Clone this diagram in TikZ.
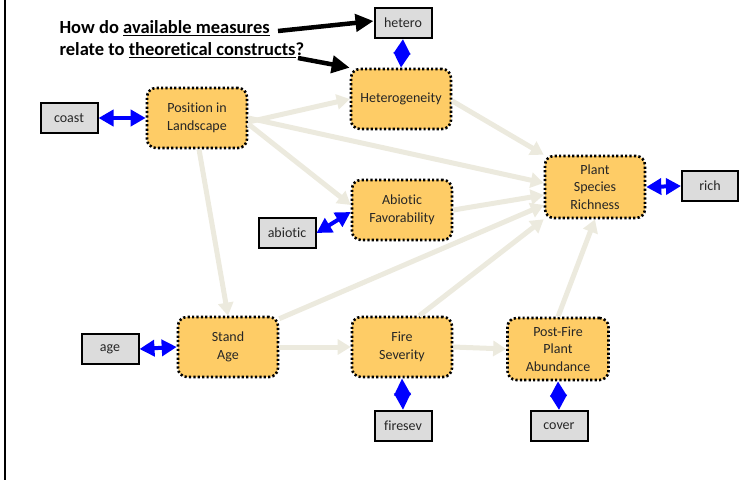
\documentclass[tikz,border=0pt]{standalone}
\usepackage{fontspec}
\setmainfont{Carlito}[RawFeature=-liga]
\usetikzlibrary{arrows.meta}
\definecolor{latent}{RGB}{254,204,102}
\definecolor{obsfill}{RGB}{220,220,220}
\definecolor{pathcol}{RGB}{236,234,222}
\tikzset{
  construct/.style={draw=black, fill=latent, line width=2.6pt, dash pattern=on 2.2pt off 2.2pt,
    rounded corners=9pt, minimum width=100pt, minimum height=60pt, align=center,
    font=\fontsize{14}{18.5}\selectfont, text=black!85},
  measure/.style={draw=black, fill=obsfill, line width=2pt, minimum width=57pt, minimum height=30pt,
    font=\fontsize{14}{16}\selectfont, text=black!85},
  pathway/.style={draw=pathcol, line width=5pt, -{Triangle[width=15pt,length=13pt]}},
  link/.style={draw=blue, line width=4pt, {Triangle[width=16pt,length=15pt]}-{Triangle[width=16pt,length=15pt]}},
  shortlink/.style={draw=blue, line width=4pt, {Triangle[width=16pt,length=17pt]}-{Triangle[width=16pt,length=17pt]}},
  pointer/.style={draw=black, line width=4.5pt, -{Triangle[width=17pt,length=18pt]}},
}
\begin{document}
\begin{tikzpicture}[x=1pt,y=-1pt]
\useasboundingbox (0,0) rectangle (740,480);
\draw[line width=2pt] (5,0) -- (5,480);

% constructs
\node[construct] (het) at (401,99) {Heterogeneity};
\node[construct] (pos) at (197,118) {Position in\\Landscape};
\node[construct] (abi) at (402,210) {Abiotic\\Favorability};
\node[construct, minimum height=62pt, font=\fontsize{14}{17.5}\selectfont] (psr) at (595,187) {Plant\\Species\\Richness};
\node[construct] (sta) at (228,347) {Stand\\Age};
\node[construct] (fir) at (402,347) {Fire\\Severity};
\node[construct, minimum width=101pt, minimum height=62pt, font=\fontsize{14}{17.5}\selectfont] (pfa) at (558,349) {Post-Fire\\Plant\\Abundance};

% measures
\node[measure] (mhet) at (403,23) {hetero};
\node[measure] (mcoa) at (69,118) {coast};
\node[measure] (mabi) at (287,233) {abiotic};
\node[measure, minimum width=56pt] (mric) at (710,186) {rich};
\node[measure] (mage) at (110,349) {age};
\node[measure] (mfir) at (403,426) {firesev};
\node[measure] (mcov) at (559,426) {cover};

% causal pathways
\draw[pathway] (pos.east |- 0,122) -- (het.west |- 0,99);
\draw[pathway] (pos.east |- 0,118) -- (psr.west |- 0,183);
\draw[pathway] (pos.east |- 0,124) -- (abi.west |- 0,205);
\draw[pathway] (pos.south) ++(2,0) -- (sta.north);
\draw[pathway] (het.east |- 0,101) -- (psr.north west);
\draw[pathway] (abi.east) -- (psr.west |- 0,195);
\draw[pathway] (sta.north east) ++(0,3) -- (psr.west |- 0,205);
\draw[pathway] (sta.east) -- (fir.west);
\draw[pathway] (fir.north east) ++(-34,0) -- (psr.south west);
\draw[pathway] (fir.east) -- (pfa.west);
\draw[pathway] (pfa.north) -- (psr.south);

% measurement links
\draw[link] (mhet.south) -- (het.north);
\draw[link] (mcoa.east) -- (pos.west);
\draw[link] (mabi.east) -- (abi.west |- 0,212);
\draw[link] (psr.east) -- (mric.west);
\draw[link] (mage.east) -- (sta.west);
\draw[shortlink] (fir.south) -- (mfir.north);
\draw[link] (pfa.south) -- (mcov.north);

% question
\node[anchor=west, align=left, font=\fontsize{18.5}{22}\selectfont\bfseries] (q) at (56,39)
  {How do \underline{available measures}\\relate to \underline{theoretical constructs}?};
\coordinate (q1) at (278,31);
\coordinate (q2) at (298,58);
\draw[pointer] (q1) -- (mhet.west |- 0,21);
\draw[pointer] (q2) -- (het.north west);
\end{tikzpicture}
\end{document}
